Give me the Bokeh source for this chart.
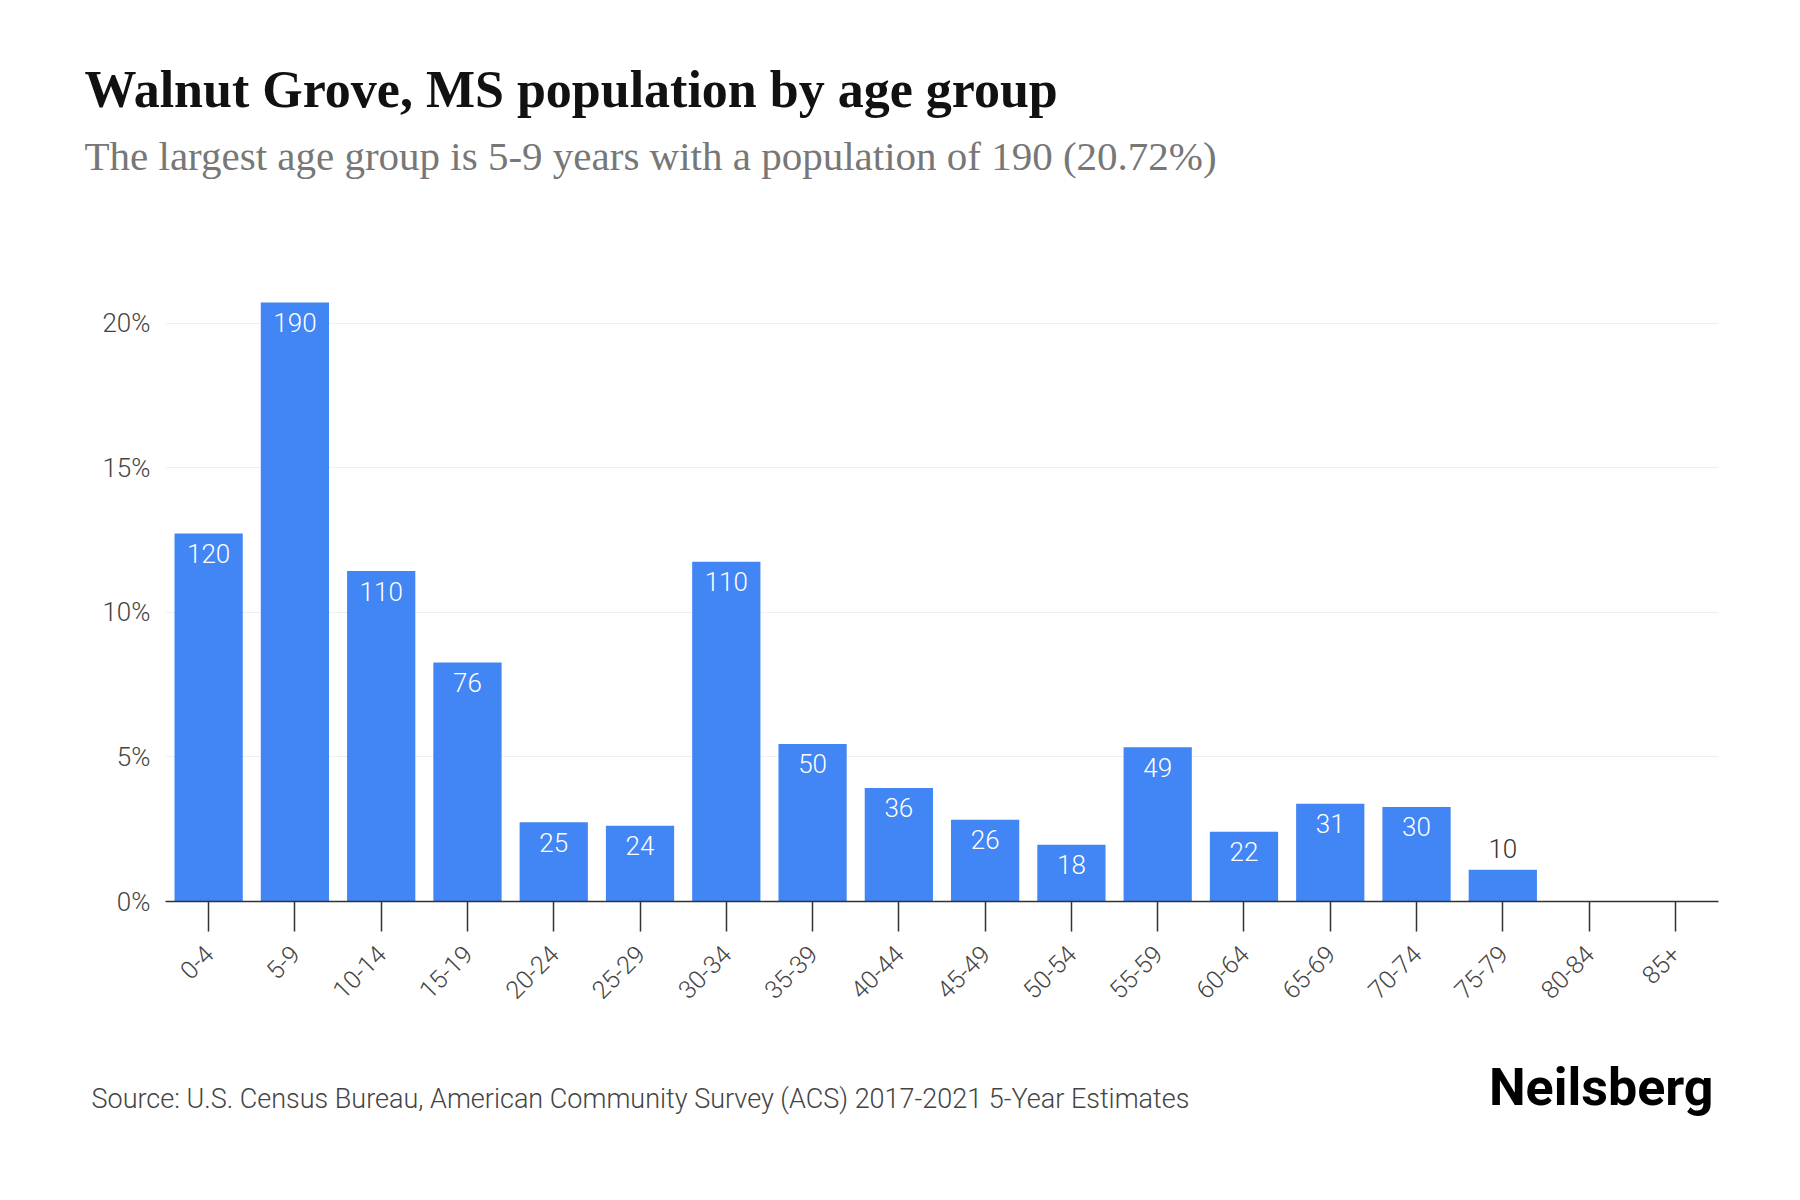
from bokeh.plotting import figure
from bokeh.layouts import column
from bokeh.models import ColumnDataSource, FixedTicker, Range1d
from bokeh.core.properties import value
from bokeh.embed import file_html
from bokeh.resources import INLINE
import math

age_groups = ["0-4", "5-9", "10-14", "15-19", "20-24", "25-29", "30-34", "35-39", "40-44",
              "45-49", "50-54", "55-59", "60-64", "65-69", "70-74", "75-79", "80-84", "85+"]
population = [120, 190, 110, 76, 25, 24, 110, 50, 36, 26, 18, 49, 22, 31, 30, 10, 0, 0]
percent = [12.73, 20.72, 11.43, 8.27, 2.74, 2.62, 11.75, 5.45, 3.93, 2.83, 1.96, 5.34,
           2.41, 3.38, 3.27, 1.10, 0.0, 0.0]
y_ticks = [0, 5, 10, 15, 20]
y_tick_labels = ["0%", "5%", "10%", "15%", "20%"]

title_text = "Walnut Grove, MS population by age group"
subtitle_text = "The largest age group is 5-9 years with a population of 190 (20.72%)"
source_text = "Source: U.S. Census Bureau, American Community Survey (ACS) 2017-2021 5-Year Estimates"
brand_text = "Neilsberg"

BAR = "#4285f4"
LIGHT = value("Roboto Light, Roboto")
W = 1784
HEAD_H = 265
FRAME_H = 636
CHART_BOTTOM = 150
FOOT_H = 1184 - HEAD_H - FRAME_H - CHART_BOTTOM


def blank(height):
    f = figure(x_range=Range1d(0, W), y_range=Range1d(height, 0),
               frame_width=W, frame_height=height,
               min_border_left=0, min_border_right=0, min_border_top=0, min_border_bottom=0,
               x_axis_type=None, y_axis_type=None,
               output_backend="svg", toolbar_location=None,
               background_fill_color="white", border_fill_color="white")
    f.outline_line_color = None
    f.xgrid.visible = False
    f.ygrid.visible = False
    return f


# header
head = blank(HEAD_H)
head.text(x=[84], y=[89], text=[title_text], text_font=value("Liberation Serif"),
          text_font_style="bold", text_font_size="52px", text_color="#111111",
          text_baseline="alphabetic", text_align="left")
head.text(x=[84], y=[155], text=[subtitle_text], text_font=value("Liberation Serif"),
          text_font_size="41px", text_color="#777777",
          text_baseline="alphabetic", text_align="left")

# chart
p = figure(x_range=age_groups, y_range=Range1d(0, 22),
           frame_width=1553, frame_height=FRAME_H,
           min_border_left=165, min_border_right=W - 165 - 1553,
           min_border_top=0, min_border_bottom=CHART_BOTTOM,
           output_backend="svg", toolbar_location=None,
           background_fill_color="white", border_fill_color="white")
p.outline_line_color = None

src = ColumnDataSource(dict(x=age_groups, top=percent, pop=population))
p.vbar(x="x", top="top", width=0.791, source=src, fill_color=BAR, line_color=None)

in_x, in_y, in_t, out_x, out_y, out_t = [], [], [], [], [], []
for a, v, n in zip(age_groups, percent, population):
    if n <= 0:
        continue
    if v >= 1.5:
        in_x.append(a); in_y.append(v); in_t.append(str(n))
    else:
        out_x.append(a); out_y.append(v); out_t.append(str(n))

p.text(x=in_x, y=in_y, text=in_t, text_color="white", text_align="center",
       text_baseline="middle", y_offset=20, text_font=LIGHT, text_font_size="26px")
p.text(x=out_x, y=out_y, text=out_t, text_color="#333333", text_align="center",
       text_baseline="middle", y_offset=-21, text_font=LIGHT, text_font_size="26px")

p.yaxis.ticker = FixedTicker(ticks=y_ticks)
p.yaxis.major_label_overrides = {t: l for t, l in zip(y_ticks, y_tick_labels)}
p.yaxis.axis_line_color = None
p.yaxis.major_tick_line_color = None
p.yaxis.minor_tick_line_color = None
p.yaxis.major_tick_out = 0
p.yaxis.major_tick_in = 0
p.yaxis.major_label_standoff = 15
p.yaxis.major_label_text_font = "Roboto Light, Roboto"
p.yaxis.major_label_text_font_size = "26px"
p.yaxis.major_label_text_color = "#444444"

p.xaxis.axis_line_color = "#333333"
p.xaxis.axis_line_width = 1.5
p.xaxis.major_tick_line_color = "#333333"
p.xaxis.major_tick_line_width = 1.5
p.xaxis.major_tick_out = 30
p.xaxis.major_tick_in = 0
p.xaxis.major_label_orientation = math.pi / 4
p.xaxis.major_label_standoff = 18
p.xaxis.major_label_text_font = "Roboto Light, Roboto"
p.xaxis.major_label_text_font_size = "25px"
p.xaxis.major_label_text_color = "#444444"

p.xgrid.grid_line_color = None
p.ygrid.grid_line_color = "#eeeeee"
p.ygrid.grid_line_width = 1

# footer
foot = blank(FOOT_H)
foot.text(x=[91], y=[47], text=[source_text], text_font=LIGHT,
          text_font_size="27px", text_color="#444444",
          text_baseline="middle", text_align="left")
foot.text(x=[1713], y=[36], text=[brand_text], text_font=value("Roboto"),
          text_font_style="bold", text_font_size="52px", text_color="#000000",
          text_baseline="alphabetic", text_align="right")

layout = column(column(head), p, column(foot), spacing=0)
open("out.html", "w").write(file_html(layout, INLINE))
